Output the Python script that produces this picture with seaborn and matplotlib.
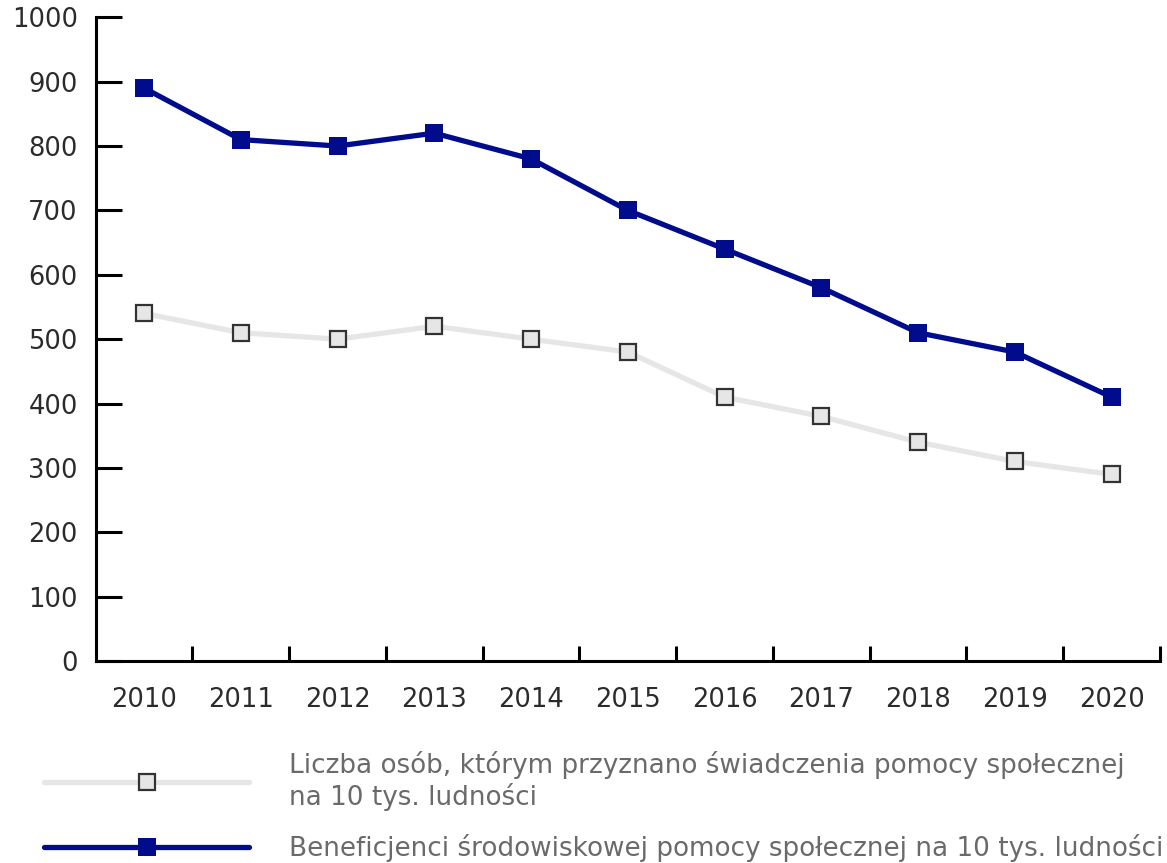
import matplotlib
matplotlib.use("Agg")
import matplotlib.pyplot as plt
import seaborn as sns
import pandas as pd
from matplotlib.ticker import FixedLocator

years = ["2010", "2011", "2012", "2013", "2014", "2015", "2016", "2017", "2018", "2019", "2020"]
liczba_osob = [540, 510, 500, 520, 500, 480, 410, 380, 340, 310, 290]
beneficjenci = [890, 810, 800, 820, 780, 700, 640, 580, 510, 480, 410]
label_gray = "Liczba osób, którym przyznano świadczenia pomocy społecznej\nna 10 tys. ludności"
label_blue = "Beneficjenci środowiskowej pomocy społecznej na 10 tys. ludności"
y_ticks = [0, 100, 200, 300, 400, 500, 600, 700, 800, 900, 1000]

sns.set_theme(style="white")
plt.rcParams['font.family'] = ['DejaVu Sans']

df = pd.DataFrame({"year": years, "gray": liczba_osob, "blue": beneficjenci})

fig = plt.figure(figsize=(11.67, 8.63), dpi=100)
ax = fig.add_axes([0.082, 0.234, 0.912, 0.746])

GRAY = "#e6e6e6"
BLUE = "#000c8c"

sns.lineplot(data=df, x="year", y="gray", ax=ax, color=GRAY, linewidth=3.8,
             marker="s", markersize=11, markerfacecolor=GRAY, markeredgecolor="#333333",
             markeredgewidth=1.6, label=label_gray)
sns.lineplot(data=df, x="year", y="blue", ax=ax, color=BLUE, linewidth=3.8,
             marker="s", markersize=13, markerfacecolor=BLUE, markeredgecolor=BLUE,
             markeredgewidth=0, label=label_blue)

ax.set_xlim(-0.5, len(years) - 0.5)
ax.set_ylim(0, 1000)
ax.set_yticks(y_ticks)
ax.set_xlabel("")
ax.set_ylabel("")

for s in ["top", "right"]:
    ax.spines[s].set_visible(False)
for s in ["left", "bottom"]:
    ax.spines[s].set_color("black")
    ax.spines[s].set_linewidth(2.2)

ax.tick_params(axis="y", direction="in", length=19, width=2.2, color="black",
               pad=13, labelsize=18.5, labelcolor="#2b2b2b", left=True)
ax.tick_params(axis="x", which="major", length=0, pad=19, labelsize=18.5, labelcolor="#2b2b2b")
ax.xaxis.set_minor_locator(FixedLocator([i + 0.5 for i in range(len(years))]))
ax.tick_params(axis="x", which="minor", direction="in", length=11, width=2.2,
               color="black", bottom=True)

handles, labels = ax.get_legend_handles_labels()
ax.get_legend().remove()
leg = fig.legend(handles, labels, loc="upper left", bbox_to_anchor=(0.038, 0.130),
                 frameon=False, handlelength=7.8, handletextpad=1.52,
                 fontsize=18.9, labelspacing=0.87, borderaxespad=0, borderpad=0)
for t in leg.get_texts():
    t.set_color("#6a6a6a")

fig.savefig("out.png", dpi=100)
